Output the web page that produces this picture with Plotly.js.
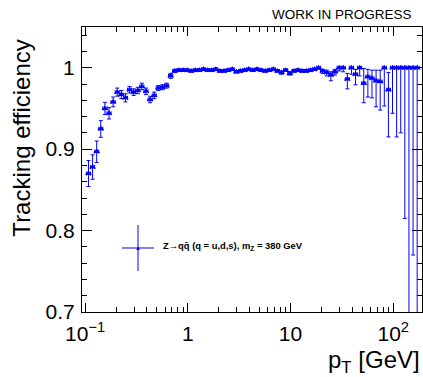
<!DOCTYPE html>
<html>
<head>
<meta charset="utf-8">
<script src="https://cdn.plot.ly/plotly-3.0.1.min.js"></script>
<style>html,body{margin:0;padding:0;background:#fff;}#chart{width:423px;height:377px;}</style>
</head>
<body>
<div id="chart"></div>
<script>
// pT bin centres [GeV]
const ptCenters = [
  0.1079, 0.1183, 0.1297, 0.1422, 0.1560, 0.1710, 0.1875, 0.2056, 0.2254, 0.2472,
  0.2710, 0.2972, 0.3258, 0.3573, 0.3917, 0.4295, 0.4710, 0.5164, 0.5662, 0.6209,
  0.6808, 0.7464, 0.8185, 0.8974, 0.9840, 1.079, 1.183, 1.297, 1.422, 1.560,
  1.710, 1.875, 2.056, 2.254, 2.472, 2.710, 2.972, 3.258, 3.573, 3.917,
  4.295, 4.710, 5.164, 5.662, 6.209, 6.808, 7.464, 8.185, 8.974, 9.840,
  10.79, 11.83, 12.97, 14.22, 15.60, 17.10, 18.75, 20.56, 22.54, 24.72,
  27.10, 29.72, 32.58, 35.73, 39.17, 42.95, 47.10, 51.64, 56.62, 62.09,
  68.08, 74.64, 81.85, 89.74, 98.40, 107.9, 118.3, 129.7, 142.2, 156.0,
  171.0
];
// tracking efficiency
const efficiency = [
  0.870, 0.878, 0.897, 0.925, 0.950, 0.944, 0.958, 0.970, 0.967, 0.963,
  0.973, 0.970, 0.972, 0.977, 0.971, 0.961, 0.966, 0.975, 0.976, 0.978,
  0.990, 0.996, 0.997, 0.997, 0.997, 0.996, 0.997, 0.997, 0.998, 0.997,
  0.997, 0.998, 0.996, 0.996, 0.997, 0.998, 0.995, 0.996, 0.997, 0.998,
  0.997, 0.998, 0.997, 0.996, 0.997, 0.998, 0.996, 0.994, 0.997, 0.993,
  0.996, 0.997, 0.996, 0.996, 0.997, 0.998, 1.000, 0.996, 0.994, 0.991,
  0.995, 1.000, 1.000, 0.986, 1.000, 0.992, 1.000, 0.981, 0.989, 0.987,
  0.984, 0.983, 1.000, 0.973, 1.000, 1.000, 1.000, 1.000, 1.000, 1.000,
  1.000
];
// upper uncertainty
const errUp = [
  0.016, 0.015, 0.013, 0.010, 0.0075, 0.007, 0.006, 0.005, 0.005, 0.005,
  0.004, 0.004, 0.004, 0.004, 0.004, 0.004, 0.004, 0.003, 0.003, 0.003,
  0.003, 0.002, 0.0015, 0.0015, 0.0015, 0.0015, 0.0015, 0.0015, 0.0015, 0.0015,
  0.0015, 0.0015, 0.0015, 0.0015, 0.0015, 0.0015, 0.0015, 0.0015, 0.0015, 0.0015,
  0.0015, 0.0015, 0.0015, 0.0015, 0.0015, 0.0015, 0.0015, 0.002, 0.0015, 0.002,
  0.0015, 0.0015, 0.0015, 0.0015, 0.0015, 0.0015, 0.0, 0.002, 0.003, 0.004,
  0.003, 0.0, 0.0, 0.007, 0.0, 0.006, 0.0, 0.018, 0.009, 0.010,
  0.013, 0.014, 0.0, 0.021, 0.0, 0.0, 0.0, 0.0, 0.0, 0.0,
  0.0
];
// lower uncertainty
const errDown = [
  0.016, 0.015, 0.0135, 0.0105, 0.0075, 0.007, 0.006, 0.005, 0.005, 0.005,
  0.004, 0.004, 0.004, 0.004, 0.004, 0.004, 0.004, 0.003, 0.003, 0.003,
  0.003, 0.002, 0.0015, 0.0015, 0.0015, 0.0015, 0.0015, 0.0015, 0.0015, 0.0015,
  0.0015, 0.0015, 0.0015, 0.0015, 0.0015, 0.0015, 0.0015, 0.0015, 0.0015, 0.0015,
  0.0015, 0.0015, 0.0015, 0.0015, 0.0015, 0.0015, 0.0015, 0.002, 0.0015, 0.002,
  0.0015, 0.0015, 0.0015, 0.0015, 0.0015, 0.0015, 0.002, 0.003, 0.004, 0.007,
  0.004, 0.004, 0.005, 0.012, 0.008, 0.013, 0.010, 0.024, 0.025, 0.024,
  0.032, 0.035, 0.047, 0.058, 0.056, 0.085, 0.080, 0.185, 0.42, 0.23,
  0.45
];
const xTickVals = [0.1, 1, 10, 100];
const xTickText = ['10<sup>\u22121</sup>', '1', '10', '10<sup>2</sup>'];
const xMinorVals = [0.2,0.3,0.4,0.5,0.6,0.7,0.8,0.9,2,3,4,5,6,7,8,9,20,30,40,50,60,70,80,90];
const yTickVals = [0.7, 0.8, 0.9, 1.0];
const yTickText = ['0.7', '0.8', '0.9', '1'];
const seriesName = 'Z\u2192qq\u0304 (q = u,d,s), m<sub>Z</sub> = 380 GeV';

const BLUE = '#0000ff';
const FONT = 'Liberation Sans, Arial, Helvetica, sans-serif';

const trace = {
  type: 'scatter', mode: 'markers',
  x: ptCenters, y: efficiency, name: seriesName,
  marker: {symbol: 'triangle-up', size: 6, color: BLUE},
  error_y: {type: 'data', symmetric: false, array: errUp, arrayminus: errDown,
            color: BLUE, thickness: 1, width: 2},
  error_x: {type: 'percent', symmetric: false, value: 4.7, valueminus: 4.5,
            color: BLUE, thickness: 1, width: 2},
  showlegend: false, cliponaxis: true
};

const axisCommon = {
  showline: true, linecolor: '#000', linewidth: 1, mirror: 'allticks',
  ticks: 'inside', tickcolor: '#000', tickwidth: 1,
  showgrid: false, zeroline: false,
  tickfont: {family: FONT, size: 21, color: '#000'}
};

const layout = {
  width: 423, height: 377,
  margin: {l: 82, r: 1, t: 27, b: 65},
  paper_bgcolor: '#fff', plot_bgcolor: '#fff',
  font: {family: FONT, color: '#000'},
  xaxis: Object.assign({}, axisCommon, {
    type: 'log', range: [-1.03, 2.28],
    tickmode: 'array', tickvals: xTickVals, ticktext: xTickText, ticklen: 9,
    ticklabelstandoff: 3,
    minor: {tickmode: 'array', tickvals: xMinorVals, ticks: 'inside', ticklen: 5, tickcolor: '#000', showgrid: false}
  }),
  yaxis: Object.assign({}, axisCommon, {
    range: [0.7, 1.05],
    tickmode: 'array', tickvals: yTickVals, ticktext: yTickText, ticklen: 10,
    ticklabelstandoff: 2,
    minor: {tickmode: 'linear', tick0: 0.7, dtick: 0.02, ticks: 'inside', ticklen: 5, tickcolor: '#000', showgrid: false}
  }),
  shapes: [
    {type: 'line', xref: 'paper', yref: 'paper', x0: 0.1176, x1: 0.2118, y0: 0.2246, y1: 0.2246, line: {color: BLUE, width: 1}},
    {type: 'line', xref: 'paper', yref: 'paper', x0: 0.1647, x1: 0.1647, y0: 0.1439, y1: 0.3053, line: {color: BLUE, width: 1}}
  ],
  annotations: [
    {xref: 'paper', yref: 'paper', x: 0.1647, y: 0.2246, text: '\u25B2', showarrow: false,
     font: {size: 6, color: BLUE}, xanchor: 'center', yanchor: 'middle'},
    {xref: 'paper', yref: 'paper', x: 0.2324, y: 0.2316, text: '<b>' + seriesName + '</b>', showarrow: false,
     font: {family: FONT, size: 9.4, color: '#000'}, xanchor: 'left', yanchor: 'middle'},
    {xref: 'paper', yref: 'paper', x: 0.9765, y: 1.0456, text: 'WORK IN PROGRESS', showarrow: false,
     font: {family: FONT, size: 13.5, color: '#000'}, xanchor: 'right', yanchor: 'middle'},
    {xref: 'paper', yref: 'paper', x: -0.179, y: 0.9614, text: 'Tracking efficiency', showarrow: false,
     textangle: -90, font: {family: FONT, size: 24, color: '#000'}, xanchor: 'center', yanchor: 'top'},
    {xref: 'paper', yref: 'paper', x: 1.0, y: -0.112, text: 'p<sub>T</sub> [GeV]', showarrow: false,
     font: {family: FONT, size: 24, color: '#000'}, xanchor: 'right', yanchor: 'top'}
  ]
};

Plotly.newPlot('chart', [trace], layout, {displayModeBar: false, staticPlot: true});
</script>
</body>
</html>
